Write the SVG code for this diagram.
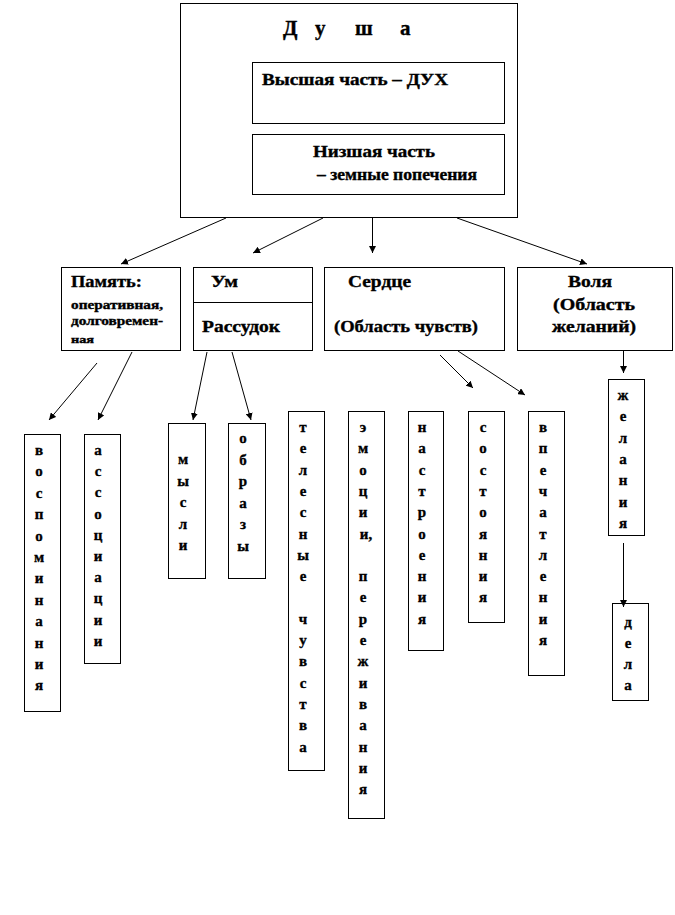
<svg xmlns="http://www.w3.org/2000/svg" width="675" height="915" viewBox="0 0 675 915">
<style>
text{font-family:"Liberation Serif","Times New Roman",serif;font-weight:bold;fill:#000;stroke:#000;stroke-width:0.35}
.box{fill:#fff;stroke:#000;stroke-width:1}
.t15{font-size:16px}
.t11{font-size:12px}
.t9{font-size:10px}
.v{font-size:15px;text-anchor:middle}
.ln{stroke:#000;stroke-width:1;fill:none;marker-end:url(#ah)}
</style>
<defs>
<marker id="ah" viewBox="0 0 10 10" refX="10" refY="5" markerWidth="7" markerHeight="7" markerUnits="userSpaceOnUse" orient="auto">
<path d="M0,0 L10,5 L0,10 z" fill="#000"/>
</marker>
</defs>
<rect width="675" height="915" fill="#fff"/>

<g id="dusha">
<rect class="box" x="180.5" y="3.5" width="337" height="214"/>
<text style="font-size:21px"><tspan x="283" y="35">Д</tspan> <tspan x="315" y="35">у</tspan> <tspan x="355" y="35">ш</tspan> <tspan x="400" y="35">а</tspan></text>
</g>
<g id="dukh">
<rect class="box" x="252.5" y="62.5" width="252" height="61"/>
<text class="t15" x="262" y="85" textLength="186" lengthAdjust="spacingAndGlyphs">Высшая часть  – ДУХ</text>
</g>
<g id="nizshaya">
<rect class="box" x="252.5" y="134.5" width="252" height="60"/>
<text class="t15" x="313" y="157" textLength="122" lengthAdjust="spacingAndGlyphs">Низшая часть</text>
<text class="t15" x="317" y="180" textLength="160" lengthAdjust="spacingAndGlyphs">– земные попечения</text>
</g>

<g id="pamyat">
<rect class="box" x="61.5" y="267.5" width="119" height="83"/>
<text class="t15" x="71" y="287" textLength="71" lengthAdjust="spacingAndGlyphs">Память:</text>
<text class="t11" x="71" y="309" textLength="92" lengthAdjust="spacingAndGlyphs">оперативная,</text>
<text class="t11" x="71" y="325" textLength="92" lengthAdjust="spacingAndGlyphs">долговремен-</text>
<text class="t9" x="71" y="343" textLength="23" lengthAdjust="spacingAndGlyphs">ная</text>
</g>
<g id="um">
<rect class="box" x="193.5" y="267.5" width="119" height="83"/>
<line x1="193.5" y1="302.5" x2="312.5" y2="302.5" stroke="#000"/>
<text class="t15" x="211" y="287" textLength="27" lengthAdjust="spacingAndGlyphs">Ум</text>
<text class="t15" x="202" y="332" textLength="78" lengthAdjust="spacingAndGlyphs">Рассудок</text>
</g>
<g id="serdce">
<rect class="box" x="324.5" y="267.5" width="180" height="83"/>
<text class="t15" x="348" y="287" textLength="63" lengthAdjust="spacingAndGlyphs">Сердце</text>
<text class="t15" x="334" y="332" textLength="144" lengthAdjust="spacingAndGlyphs">(Область чувств)</text>
</g>
<g id="volya">
<rect class="box" x="517.5" y="267.5" width="155" height="83"/>
<text class="t15" x="568" y="287" textLength="44" lengthAdjust="spacingAndGlyphs">Воля</text>
<text class="t15" x="553" y="310" textLength="82" lengthAdjust="spacingAndGlyphs">(Область</text>
<text class="t15" x="552" y="332" textLength="84" lengthAdjust="spacingAndGlyphs">желаний)</text>
</g>

<g id="vospominaniya">
<rect class="box" x="24.5" y="434.5" width="36" height="277"/>
<text class="v"><tspan x="39" y="455">в</tspan><tspan x="39" dy="21.4">о</tspan><tspan x="39" dy="21.4">с</tspan><tspan x="39" dy="21.4">п</tspan><tspan x="39" dy="21.4">о</tspan><tspan x="39" dy="21.4">м</tspan><tspan x="39" dy="21.4">и</tspan><tspan x="39" dy="21.4">н</tspan><tspan x="39" dy="21.4">а</tspan><tspan x="39" dy="21.4">н</tspan><tspan x="39" dy="21.4">и</tspan><tspan x="39" dy="21.4">я</tspan></text>
</g>
<g id="associacii">
<rect class="box" x="84.5" y="434.5" width="36" height="229"/>
<text class="v"><tspan x="98" y="455">а</tspan><tspan x="98" dy="21.2">с</tspan><tspan x="98" dy="21.2">с</tspan><tspan x="98" dy="21.2">о</tspan><tspan x="98" dy="21.2">ц</tspan><tspan x="98" dy="21.2">и</tspan><tspan x="98" dy="21.2">а</tspan><tspan x="98" dy="21.2">ц</tspan><tspan x="98" dy="21.2">и</tspan><tspan x="98" dy="21.2">и</tspan></text>
</g>
<g id="mysli">
<rect class="box" x="168.5" y="423.5" width="37" height="155"/>
<text class="v"><tspan x="183" y="464">м</tspan><tspan x="183" dy="21.5">ы</tspan><tspan x="183" dy="21.5">с</tspan><tspan x="183" dy="21.5">л</tspan><tspan x="183" dy="21.5">и</tspan></text>
</g>
<g id="obrazy">
<rect class="box" x="228.5" y="423.5" width="37" height="155"/>
<text class="v"><tspan x="243" y="443">о</tspan><tspan x="243" dy="21.5">б</tspan><tspan x="243" dy="21.5">р</tspan><tspan x="243" dy="21.5">а</tspan><tspan x="243" dy="21.5">з</tspan><tspan x="243" dy="21.5">ы</tspan></text>
</g>
<g id="telesnye">
<rect class="box" x="288.5" y="411.5" width="36" height="359"/>
<text class="v"><tspan x="303" y="432">т</tspan><tspan x="303" dy="21.3">е</tspan><tspan x="303" dy="21.3">л</tspan><tspan x="303" dy="21.3">е</tspan><tspan x="303" dy="21.3">с</tspan><tspan x="303" dy="21.3">н</tspan><tspan x="303" dy="21.3">ы</tspan><tspan x="303" dy="21.3">е</tspan><tspan x="303" dy="42.6">ч</tspan><tspan x="303" dy="21.3">у</tspan><tspan x="303" dy="21.3">в</tspan><tspan x="303" dy="21.3">с</tspan><tspan x="303" dy="21.3">т</tspan><tspan x="303" dy="21.3">в</tspan><tspan x="303" dy="21.3">а</tspan></text>
</g>
<g id="emocii">
<rect class="box" x="348.5" y="411.5" width="36" height="407"/>
<text class="v"><tspan x="363" y="432">э</tspan><tspan x="363" dy="21.3">м</tspan><tspan x="363" dy="21.3">о</tspan><tspan x="363" dy="21.3">ц</tspan><tspan x="363" dy="21.3">и</tspan><tspan x="366" dy="21.3">и,</tspan><tspan x="363" dy="42.6">п</tspan><tspan x="363" dy="21.3">е</tspan><tspan x="363" dy="21.3">р</tspan><tspan x="363" dy="21.3">е</tspan><tspan x="363" dy="21.3">ж</tspan><tspan x="363" dy="21.3">и</tspan><tspan x="363" dy="21.3">в</tspan><tspan x="363" dy="21.3">а</tspan><tspan x="363" dy="21.3">н</tspan><tspan x="363" dy="21.3">и</tspan><tspan x="363" dy="21.3">я</tspan></text>
</g>
<g id="nastroeniya">
<rect class="box" x="408.5" y="411.5" width="35" height="239"/>
<text class="v"><tspan x="422" y="432">н</tspan><tspan x="422" dy="21.3">а</tspan><tspan x="422" dy="21.3">с</tspan><tspan x="422" dy="21.3">т</tspan><tspan x="422" dy="21.3">р</tspan><tspan x="422" dy="21.3">о</tspan><tspan x="422" dy="21.3">е</tspan><tspan x="422" dy="21.3">н</tspan><tspan x="422" dy="21.3">и</tspan><tspan x="422" dy="21.3">я</tspan></text>
</g>
<g id="sostoyaniya">
<rect class="box" x="468.5" y="411.5" width="36" height="211"/>
<text class="v"><tspan x="483" y="432">с</tspan><tspan x="483" dy="21.3">о</tspan><tspan x="483" dy="21.3">с</tspan><tspan x="483" dy="21.3">т</tspan><tspan x="483" dy="21.3">о</tspan><tspan x="483" dy="21.3">я</tspan><tspan x="483" dy="21.3">н</tspan><tspan x="483" dy="21.3">и</tspan><tspan x="483" dy="21.3">я</tspan></text>
</g>
<g id="vpechatleniya">
<rect class="box" x="528.5" y="411.5" width="36" height="264"/>
<text class="v"><tspan x="543" y="432">в</tspan><tspan x="543" dy="21.3">п</tspan><tspan x="543" dy="21.3">е</tspan><tspan x="543" dy="21.3">ч</tspan><tspan x="543" dy="21.3">а</tspan><tspan x="543" dy="21.3">т</tspan><tspan x="543" dy="21.3">л</tspan><tspan x="543" dy="21.3">е</tspan><tspan x="543" dy="21.3">н</tspan><tspan x="543" dy="21.3">и</tspan><tspan x="543" dy="21.3">я</tspan></text>
</g>
<g id="zhelaniya">
<rect class="box" x="608.5" y="379.5" width="36" height="156"/>
<text class="v"><tspan x="623" y="400">ж</tspan><tspan x="623" dy="21.3">е</tspan><tspan x="623" dy="21.3">л</tspan><tspan x="623" dy="21.3">а</tspan><tspan x="623" dy="21.3">н</tspan><tspan x="623" dy="21.3">и</tspan><tspan x="623" dy="21.3">я</tspan></text>
</g>
<g id="dela">
<rect class="box" x="612.5" y="603.5" width="36" height="97"/>
<text class="v"><tspan x="628" y="627">д</tspan><tspan x="628" dy="21">е</tspan><tspan x="628" dy="21">л</tspan><tspan x="628" dy="21">а</tspan></text>
</g>

<g id="connectors">
<line class="ln" x1="226" y1="218" x2="121" y2="264"/>
<line class="ln" x1="323" y1="218" x2="253" y2="253"/>
<line class="ln" x1="372.5" y1="218" x2="372.5" y2="253"/>
<line class="ln" x1="457" y1="218" x2="587" y2="264"/>
<line class="ln" x1="97" y1="363" x2="49" y2="420"/>
<line class="ln" x1="132" y1="352" x2="98" y2="420"/>
<line class="ln" x1="207" y1="352" x2="193" y2="420"/>
<line class="ln" x1="232" y1="352" x2="251" y2="420"/>
<line class="ln" x1="440" y1="355" x2="473" y2="388"/>
<line class="ln" x1="458" y1="351" x2="525" y2="395"/>
<line class="ln" x1="623.5" y1="351" x2="623.5" y2="373"/>
<line class="ln" x1="623.5" y1="543" x2="623.5" y2="607"/>
</g>
</svg>
